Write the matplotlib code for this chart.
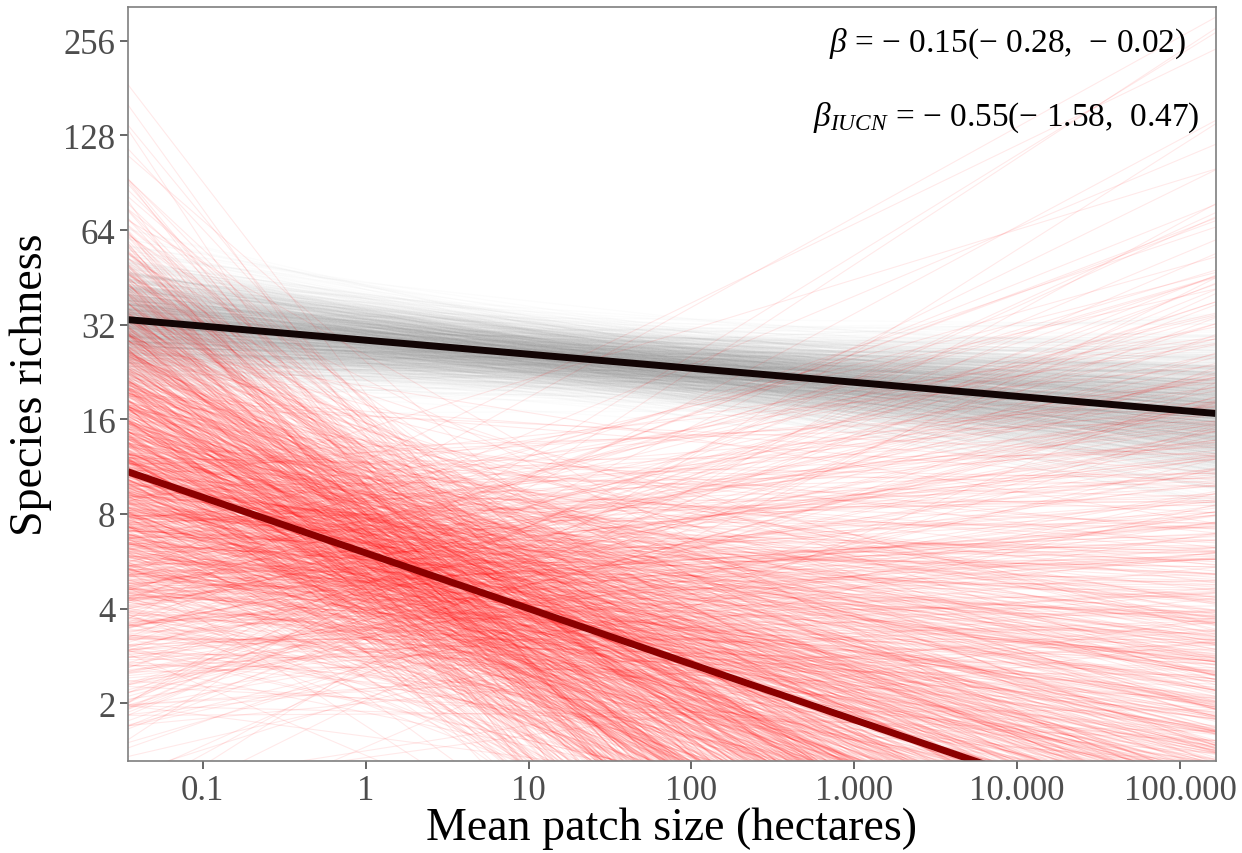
import numpy as np
import matplotlib
matplotlib.use("Agg")
import matplotlib.pyplot as plt
from matplotlib.collections import LineCollection
from statistics import NormalDist

# ---- data ----
x_ends = [0.0347, 166000]              # x-range of the fitted lines (hectares)
all_species_fit = [33.2, 16.7]         # overall fit (black)
iucn_fit = [10.9, 0.717]               # IUCN-threatened fit (dark red)

# posterior-draw summaries (log scale) used for the spaghetti bands
gray_pivot_x, gray_pivot_sd, gray_slope_sd = 30.0, 0.12, 0.026
red_pivot_x, red_pivot_sd, red_slope_sd = 2.0, 0.45, 0.18
pivot_jitter = 1.6                      # spread of pivot positions (log units)
n_draws = 1200

x_ticks = [0.1, 1, 10, 100, 1000, 10000, 100000]
x_ticklabels = ["0.1", "1", "10", "100", "1.000", "10.000", "100.000"]
y_ticks = [2, 4, 8, 16, 32, 64, 128, 256]
y_ticklabels = ["2", "4", "8", "16", "32", "64", "128", "256"]
xlim = (0.0347, 166000)
ylim = (1.31, 328)

label1 = r"$\beta$ = $-$ 0.15($-$ 0.28,  $-$ 0.02)"
label2 = r"$\beta_{IUCN}$ = $-$ 0.55($-$ 1.58,  0.47)"

# ---- style ----
plt.rcParams["font.family"] = ["Liberation Serif", "DejaVu Serif"]
plt.rcParams["mathtext.fontset"] = "custom"
plt.rcParams["mathtext.rm"] = "Liberation Serif"
plt.rcParams["mathtext.it"] = "Liberation Serif:italic"
plt.rcParams["mathtext.bf"] = "Liberation Serif:bold"

fig = plt.figure(figsize=(12.42, 8.54), dpi=100)
ax = fig.add_axes([0.103, 0.1077, 0.876, 0.883])

nd = NormalDist()

def radical_inverse(i, base):
    f, r = 1.0, 0.0
    while i > 0:
        f /= base
        r += f * (i % base)
        i //= base
    return r

def spaghetti(fit, pivot_x, pivot_sd, slope_sd, b1, b2, b3):
    lx0, lx1 = np.log(x_ends[0]), np.log(x_ends[1])
    ly0, ly1 = np.log(fit[0]), np.log(fit[1])
    slope = (ly1 - ly0) / (lx1 - lx0)
    xs = np.array([lx0, lx1])
    segs = []
    for i in range(1, n_draws + 1):
        u = min(max(radical_inverse(i, b1), 1e-4), 1 - 1e-4)
        v = min(max(radical_inverse(i, b2), 1e-4), 1 - 1e-4)
        w = radical_inverse(i, b3)
        lp = np.log(pivot_x) + (w - 0.5) * pivot_jitter
        yp = ly0 + slope * (lp - lx0)
        a = yp + nd.inv_cdf(u) * pivot_sd
        b = slope + nd.inv_cdf(v) * slope_sd
        ys = a + b * (xs - lp)
        segs.append(np.column_stack([np.exp(xs), np.exp(ys)]))
    return segs

gray_segs = spaghetti(all_species_fit, gray_pivot_x, gray_pivot_sd, gray_slope_sd, 2, 3, 5)
red_segs = spaghetti(iucn_fit, red_pivot_x, red_pivot_sd, red_slope_sd, 5, 7, 11)

ax.add_collection(LineCollection(gray_segs, colors="#8a8a8a", alpha=0.025, linewidths=0.9))
ax.add_collection(LineCollection(red_segs, colors="#ff0000", alpha=0.085, linewidths=0.8))

ax.plot(x_ends, all_species_fit, color="#120505", lw=5, solid_capstyle="butt")
ax.plot(x_ends, iucn_fit, color="#8B0000", lw=5, solid_capstyle="butt")

ax.set_xscale("log")
ax.set_yscale("log")
ax.set_xlim(*xlim)
ax.set_ylim(*ylim)
ax.set_xticks(x_ticks)
ax.set_xticklabels(x_ticklabels)
ax.set_yticks(y_ticks)
ax.set_yticklabels(y_ticklabels)
ax.minorticks_off()
ax.tick_params(axis="both", which="major", labelsize=25, colors="#4D4D4D",
               length=6, width=1.2, pad=3)
for s in ax.spines.values():
    s.set_color("#7F7F7F")
    s.set_linewidth(1.2)

ax.set_xlabel("Mean patch size (hectares)", fontsize=33, color="black", labelpad=0)
ax.set_ylabel("Species richness", fontsize=33, color="black", labelpad=8)

ax.text(0.973, 0.952, label1, transform=ax.transAxes, ha="right", va="center",
        fontsize=24, color="black")
ax.text(0.985, 0.855, label2, transform=ax.transAxes, ha="right", va="center",
        fontsize=24, color="black")

fig.savefig("out.png", dpi=100, facecolor="white")
